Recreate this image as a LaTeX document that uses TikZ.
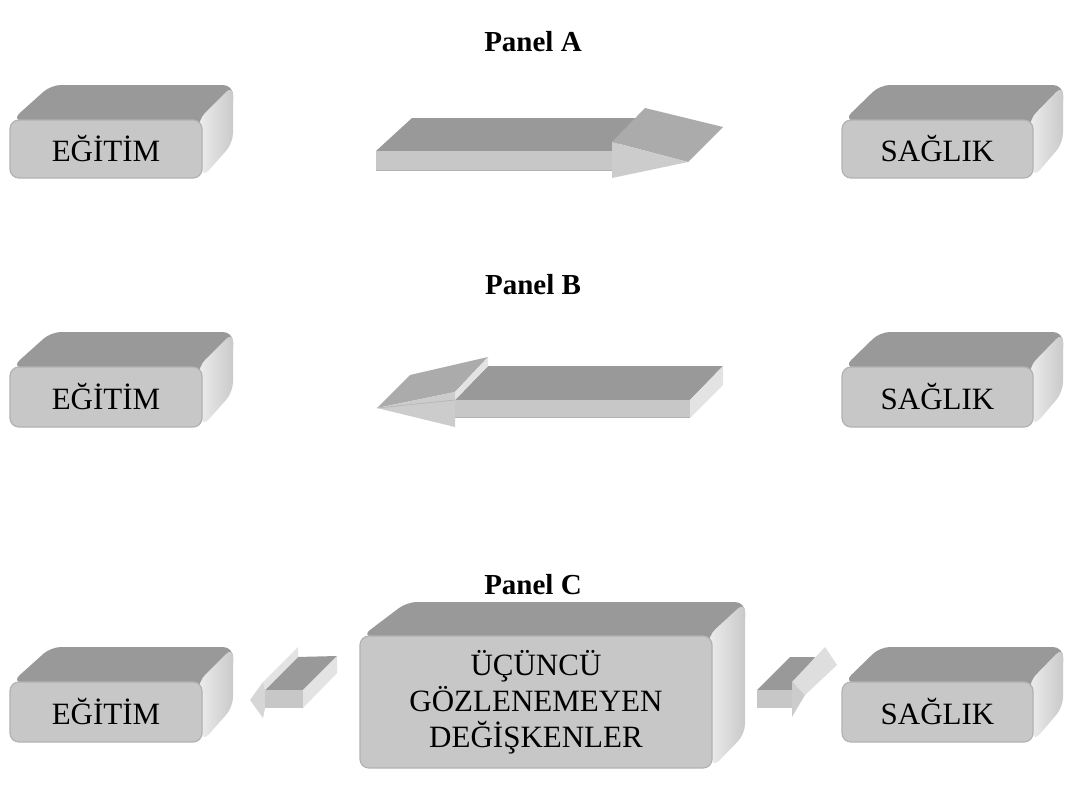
\documentclass[tikz,border=0pt]{standalone}
\usepackage{fontspec}
\setmainfont{Liberation Serif}
\usetikzlibrary{calc}
\tikzset{
  topface/.style={fill=black!40},
  sideface/.style={left color=black!7, right color=black!21},
  frontface/.style={draw=black!30, line width=1.2pt, fill=black!22, rounded corners=9pt, inner sep=0pt, align=center, font=\fontsize{31}{36}\selectfont},
  arrtop/.style={fill=black!40},
  arrfront/.style={fill=black!22},
  arrside/.style={fill=black!11},
  headtop/.style={fill=black!33},
  headfront/.style={fill=black!20},
  paneltitle/.style={font=\bfseries\fontsize{29}{35}\selectfont},
}
% #1 name, #2 x1, #3 y1, #4 x2, #5 y2, #6 dx left, #7 dx right, #8 dy, #9 text
\newcommand\cubebox[9]{%
  \fill[topface, rounded corners=10pt] (#2+2,#3) -- (#2+#6,#3-#8) -- (#4+#7,#3-#8) -- (#4+#7,#3-#8+25) -- (#4,#3+10) -- cycle;
  \shade[sideface, rounded corners=10pt] (#4-4,#3) -- (#4+#7,#3-#8) -- (#4+#7,#5-#8) -- (#4,#5) -- cycle;
  \node[frontface, minimum width=#4-#2, minimum height=#5-#3] (#1) at ({(#2+#4)/2},{(#3+#5)/2}) {#9};
}
\begin{document}
\begin{tikzpicture}[x=1pt,y=-1pt]
\useasboundingbox (0,0) rectangle (1067,787);
\fill[white] (0,0) rectangle (1067,787);

% ---------- Panel A ----------
\node[paneltitle] (tA) at (533,42) {Panel A};
\cubebox{eA}{10}{120}{202}{178}{41}{31}{35}{EĞİTİM}
\cubebox{sA}{842}{120}{1033}{178}{38}{30}{35}{SAĞLIK}
% arrow right
\fill[arrtop] (376,151) -- (412,118) -- (646,118) -- (612,151) -- cycle;
\fill[arrfront] (376,151) rectangle (612,171);
\draw[black!30, line width=1pt] (376,170.5) -- (612,170.5);
\fill[headtop] (612,142) -- (645,108) -- (723,127) -- (688,162) -- cycle;
\fill[headfront] (612,142) -- (688,162) -- (612,178) -- cycle;

% ---------- Panel B ----------
\node[paneltitle] (tB) at (533,285) {Panel B};
\cubebox{eB}{10}{367}{202}{427}{41}{31}{35}{EĞİTİM}
\cubebox{sB}{842}{367}{1033}{427}{38}{30}{35}{SAĞLIK}
% arrow left
\fill[arrtop] (455,400) -- (488,366) -- (723,366) -- (690,400) -- cycle;
\fill[arrfront] (455,400) rectangle (690,418);
\draw[black!30, line width=1pt] (455,417.5) -- (690,417.5);
\fill[arrside] (690,400) -- (723,366) -- (723,385) -- (690,418) -- cycle;
\fill[headtop] (377,408) -- (410,375) -- (488,357) -- (455,392) -- cycle;
\fill[headfront] (377,408) -- (455,392) -- (455,427) -- cycle;
\fill[arrside] (455,392) -- (488,357) -- (488,366) -- (455,400) -- cycle;
\draw[black!28, line width=0.8pt] (377,408) -- (455,400);

% ---------- Panel C ----------
\node[paneltitle] (tC) at (533,585) {Panel C};
\cubebox{eC}{10}{682}{202}{742}{41}{31}{35}{EĞİTİM}
\cubebox{sC}{842}{682}{1033}{742}{38}{30}{35}{SAĞLIK}
\cubebox{u}{360}{636}{712}{768}{47}{33}{34}{ÜÇÜNCÜ\\GÖZLENEMEYEN\\DEĞİŞKENLER}
% small arrow left
\fill[arrtop] (265,690) -- (297,657) -- (337,656) -- (303,690) -- cycle;
\fill[arrfront] (265,690) rectangle (303,708);
\fill[arrside] (303,690) -- (337,656) -- (337,673) -- (303,708) -- cycle;
\fill[arrside] (263,682) -- (298,647) -- (298,657) -- (265,690) -- cycle;
\fill[fill=black!16] (250,700) -- (263,682) -- (265,690) -- (265,708) -- (263,718) -- cycle;
% small arrow right
\fill[arrtop] (757,690) -- (790,657) -- (815,657) -- (792,690) -- cycle;
\fill[arrfront] (757,690) rectangle (792,708);
\fill[fill=black!13] (792,682) -- (825,647) -- (837,665) -- (805,695) -- cycle;
\fill[headfront] (792,682) -- (805,695) -- (792,717) -- cycle;
\end{tikzpicture}
\end{document}
